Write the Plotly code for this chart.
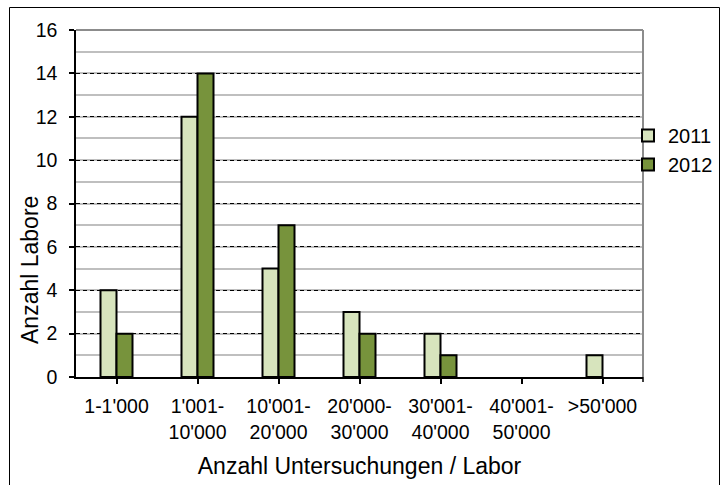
import plotly.graph_objects as go

# Laboratory size classes (number of examinations per lab)
categories = ["1-1'000", "1'001-<br>10'000", "10'001-<br>20'000", "20'000-<br>30'000",
              "30'001-<br>40'000", "40'001-<br>50'000", ">50'000"]
labs_2011 = [4, 12, 5, 3, 2, 0, 1]
labs_2012 = [2, 14, 7, 2, 1, 0, 0]
y_ticks = [0, 2, 4, 6, 8, 10, 12, 14, 16]

FONT = "Liberation Sans, Arial, sans-serif"
W, H = 721, 485
L, R, T, B = 76, 78, 30, 108
PW, PH = W - L - R, H - T - B


def bar_heights(values):
    # empty classes get no bar outline on the axis
    return [v if v else None for v in values]


fig = go.Figure()
fig.add_trace(go.Bar(
    x=categories, y=bar_heights(labs_2011), name="2011",
    marker=dict(color="#D7E4BD", line=dict(color="#000000", width=2)),
))
fig.add_trace(go.Bar(
    x=categories, y=bar_heights(labs_2012), name="2012",
    marker=dict(color="#77933C", line=dict(color="#000000", width=2)),
))


def px_x(p):
    return (p - L) / PW


def px_y(p):
    return (H - B - p) / PH


shapes = [
    # gray frame on top and right of the plotting area
    dict(type="line", xref="paper", yref="paper", x0=0, x1=1, y0=1, y1=1,
         line=dict(color="#8C8C8C", width=2), layer="above"),
    dict(type="line", xref="paper", yref="paper", x0=1, x1=1, y0=0, y1=1,
         line=dict(color="#8C8C8C", width=2), layer="above"),
    # closing tick at the end of the category axis
    dict(type="line", xref="paper", yref="paper", x0=1, x1=1, y0=0, y1=-5 / PH,
         line=dict(color="#000000", width=1.5)),
    # outer chart border
    dict(type="rect", xref="paper", yref="paper",
         x0=px_x(9.5), x1=px_x(719.5), y0=px_y(495), y1=px_y(7.5),
         line=dict(color="#000000", width=1), fillcolor="rgba(0,0,0,0)"),
]

annotations = [
    dict(text="Anzahl Labore", xref="paper", yref="paper",
         x=px_x(30), y=px_y(270), textangle=-90, showarrow=False,
         xanchor="center", yanchor="middle", font=dict(size=23)),
]

fig.update_layout(
    width=W, height=H,
    margin=dict(l=L, r=R, t=T, b=B, autoexpand=False),
    paper_bgcolor="white", plot_bgcolor="white",
    font=dict(family=FONT, size=19.5, color="#000000"),
    barmode="group", bargap=0.605, bargroupgap=0,
    showlegend=True,
    legend=dict(x=px_x(628), y=px_y(116), xanchor="left", yanchor="top",
                font=dict(size=20), bgcolor="rgba(0,0,0,0)",
                tracegroupgap=0),
    shapes=shapes,
    annotations=annotations,
    xaxis=dict(
        type="category",
        showline=True, linecolor="#000000", linewidth=1.5,
        ticks="outside", ticklen=5, tickcolor="#000000", tickwidth=1.5,
        ticklabelstandoff=6,
        showgrid=False, zeroline=False,
        tickfont=dict(size=19.5),
        title=dict(text="Anzahl Untersuchungen / Labor", font=dict(size=23), standoff=16),
    ),
    yaxis=dict(
        range=[0, 16], tickvals=y_ticks,
        showline=True, linecolor="#000000", linewidth=1.5,
        ticks="outside", ticklen=5, tickcolor="#000000", tickwidth=1.5,
        ticklabelstandoff=8,
        showgrid=True, gridcolor="#000000", gridwidth=1, griddash="4px,3px",
        minor=dict(dtick=1, showgrid=True, gridcolor="#BFBFBF", gridwidth=2,
                   griddash="solid", ticks=""),
        zeroline=False,
        tickfont=dict(size=19.5),
    ),
)

fig.write_html("out.html")
